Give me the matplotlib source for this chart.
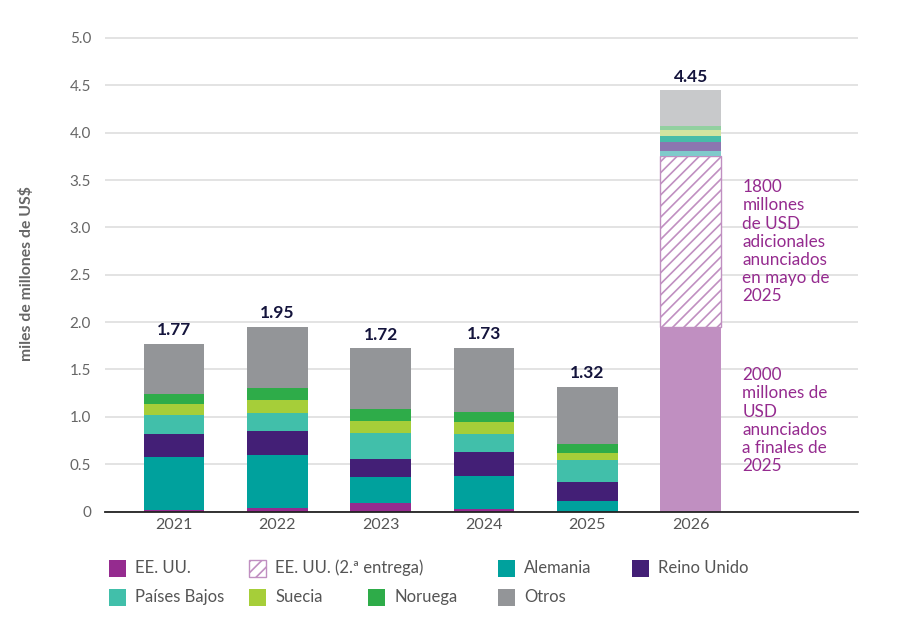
import matplotlib
matplotlib.use("Agg")
import matplotlib.pyplot as plt
from matplotlib.patches import Rectangle
import numpy as np

plt.rcParams['font.family'] = ['Lato', 'DejaVu Sans']
plt.rcParams['hatch.linewidth'] = 1.2

# ---- data ----
years = ["2021", "2022", "2023", "2024", "2025", "2026"]
totals = [1.77, 1.95, 1.72, 1.73, 1.32, 4.45]
us = [0.02, 0.04, 0.09, 0.03, 0.00, 1.95]
us_second = [0, 0, 0, 0, 0, 1.80]
germany = [0.555, 0.553, 0.277, 0.341, 0.114, 0.054]
uk = [0.24, 0.257, 0.183, 0.253, 0.201, 0.10]
netherlands = [0.20, 0.193, 0.275, 0.194, 0.229, 0.06]
sweden = [0.12, 0.134, 0.13, 0.13, 0.077, 0.06]
norway = [0.11, 0.123, 0.123, 0.098, 0.095, 0.05]
others = [0.525, 0.65, 0.645, 0.684, 0.60, 0.381]

legend_labels = ["EE. UU.", "EE. UU. (2.ª entrega)", "Alemania", "Reino Unido",
                 "Países Bajos", "Suecia", "Noruega", "Otros"]
note_2nd = "1800\nmillones\nde USD\nadicionales\nanunciados\nen mayo de\n2025"
note_1st = "2000\nmillones de\nUSD\nanunciados\na finales de\n2025"

# ---- styles ----
c_main = {"us": "#952B8F", "de": "#00A19D", "uk": "#431F76", "nl": "#41BFAA",
          "se": "#A6CE39", "no": "#2EAC49", "ot": "#939598"}
c_light = {"us": "#C08FC1", "de": "#80CACB", "uk": "#8C76B0", "nl": "#48BCA8",
           "se": "#D2E4A0", "no": "#92D0A0", "ot": "#C8C9CB"}
hatch_color = "#C08FC1"

fig = plt.figure(figsize=(9, 6.39), dpi=100)
ax = fig.add_axes([105/900, 1 - 511.5/639, (858-105)/900, (511.5-36.1)/639])

x = np.arange(len(years))
width = 0.59
series = [("us", us), ("us2", us_second), ("de", germany), ("uk", uk),
          ("nl", netherlands), ("se", sweden), ("no", norway), ("ot", others)]

bottom = np.zeros(len(years))
for key, vals in series:
    vals = np.array(vals, dtype=float)
    for i in range(len(years)):
        if vals[i] <= 0:
            continue
        last = (i == len(years) - 1)
        if key == "us2":
            ax.bar(x[i], vals[i], width, bottom=bottom[i], facecolor="white",
                   edgecolor=hatch_color, hatch="///", linewidth=1.0, zorder=3)
        else:
            col = c_light[key] if last else c_main[key]
            ax.bar(x[i], vals[i], width, bottom=bottom[i], color=col,
                   linewidth=0, zorder=3)
    bottom += vals

for i, t in enumerate(totals):
    ax.annotate(f"{t:.2f}", (x[i], t), xytext=(0, 4), textcoords="offset points",
                ha="center", va="bottom", fontsize=12.5, fontweight="bold",
                color="#14143C", zorder=5)

ax.text(5.5, 3.51, note_2nd, ha="left", va="top", fontsize=12.3,
        color="#952B8F", linespacing=1.17, zorder=5)
ax.text(5.5, 1.525, note_1st, ha="left", va="top", fontsize=12.3,
        color="#952B8F", linespacing=1.17, zorder=5)

ax.set_xlim(-0.668, 6.62)
ax.set_ylim(0, 5.02)
ax.set_yticks(np.arange(0, 5.01, 0.5))
ax.set_yticklabels(["0"] + [f"{v:.1f}" for v in np.arange(0.5, 5.01, 0.5)])
ax.set_xticks(x)
ax.set_xticklabels(years)
ax.tick_params(axis="y", length=0, pad=10, labelsize=11, labelcolor="#666666")
ax.tick_params(axis="x", length=0, pad=5, labelsize=11.5, labelcolor="#555555")
ax.yaxis.grid(True, color="#DEDEDE", linewidth=1.2, zorder=0)
ax.set_axisbelow(True)
for s in ["top", "right", "left"]:
    ax.spines[s].set_visible(False)
ax.spines["bottom"].set_color("#222222")
ax.spines["bottom"].set_linewidth(1.3)
ax.spines["bottom"].set_zorder(4)

ax.set_ylabel("miles de millones de US$", fontsize=11.3, fontweight="bold",
              color="#666666", va="center")
ax.yaxis.set_label_coords(-0.104, 0.50)

# ---- legend (manual layout) ----
leg_pos = [(109, 568), (249, 568), (498, 568), (632, 568),
           (109, 597), (249, 597), (368, 597), (498, 597)]
leg_style = [dict(facecolor=c_main["us"]),
             dict(facecolor="white", edgecolor=hatch_color, hatch="///", linewidth=1.0),
             dict(facecolor=c_main["de"]), dict(facecolor=c_main["uk"]),
             dict(facecolor=c_main["nl"]), dict(facecolor=c_main["se"]),
             dict(facecolor=c_main["no"]), dict(facecolor=c_main["ot"])]
sq_w, sq_h = 17, 17
for (px, py), lab, st in zip(leg_pos, legend_labels, leg_style):
    st = dict(st)
    if "edgecolor" not in st:
        st["edgecolor"] = "none"
    r = Rectangle((px/900, 1 - (py + sq_h/2)/639), sq_w/900, sq_h/639,
                  transform=fig.transFigure, **st)
    fig.patches.append(r)
    fig.text((px + 26)/900, 1 - py/639, lab, ha="left", va="center",
             fontsize=12, color="#555555")

fig.savefig("out.png", dpi=100)
